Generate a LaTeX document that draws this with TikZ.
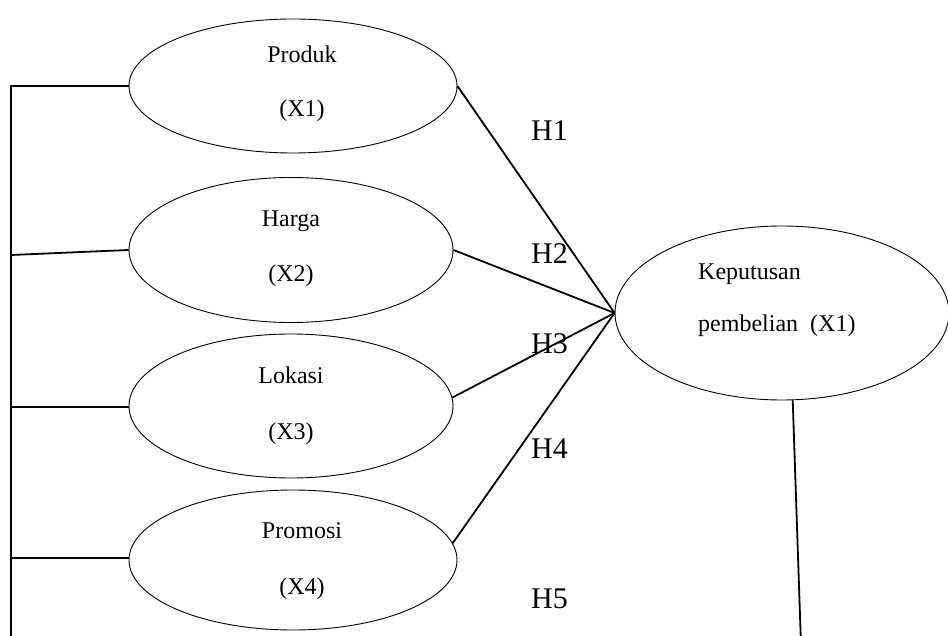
\documentclass[tikz,border=0pt]{standalone}
\usepackage{fontspec}
\setmainfont{Liberation Serif}
\usetikzlibrary{shapes.geometric}
\begin{document}
\begin{tikzpicture}[x=1pt,y=-1pt,
  ell/.style={draw,ellipse,line width=0.9pt,inner sep=0pt},
  conn/.style={line width=1.8pt},
  etext/.style={inner sep=0pt,anchor=base,font=\fontsize{24}{28}\selectfont},
  ktext/.style={inner sep=0pt,anchor=base west,font=\fontsize{24}{28}\selectfont},
  hlabel/.style={inner sep=0pt,anchor=base west,font=\fontsize{30}{34}\selectfont}]
\useasboundingbox (0,0) rectangle (948,636);
% ellipses
\node[ell,minimum width=328pt,minimum height=134pt] (prod) at (293,86) {};
\node[ell,minimum width=324pt,minimum height=145pt] (harg) at (291,250) {};
\node[ell,minimum width=324pt,minimum height=144pt] (loka) at (291,406) {};
\node[ell,minimum width=328pt,minimum height=140pt] (prom) at (293,560) {};
\node[ell,minimum width=334pt,minimum height=174pt] (kep) at (782,313) {};
% texts
\node[etext] (t1a) at (302,63) {Produk};
\node[etext] (t1b) at (302,117) {(X1)};
\node[etext] (t2a) at (291,227) {Harga};
\node[etext] (t2b) at (291,282) {(X2)};
\node[etext] (t3a) at (291,384) {Lokasi};
\node[etext] (t3b) at (291,439) {(X3)};
\node[etext] (t4a) at (302,538) {Promosi};
\node[etext] (t4b) at (302,594) {(X4)};
\node[ktext] (tka) at (698,280) {Keputusan};
\node[ktext] (tkb) at (698,332) {pembelian\ \ (X1)};
% hypothesis labels
\node[hlabel] (h1) at (531,141) {H1};
\node[hlabel] (h2) at (531,264) {H2};
\node[hlabel] (h3) at (531,354) {H3};
\node[hlabel] (h4) at (531,458) {H4};
\node[hlabel] (h5) at (531,608) {H5};
% left bracket
\coordinate (ltop) at (11,86);
\coordinate (l2) at (11,255);
\coordinate (l3) at (11,407);
\coordinate (l4) at (11,558);
\coordinate (lbot) at (11,645);
\draw[conn] (lbot) -- (ltop) -- (prod.west);
\draw[conn] (l2) -- (harg.west);
\draw[conn] (l3) -- (l3 -| loka.west);
\draw[conn] (l4) -- (l4 -| prom.west);
% converging lines
\draw[conn] (prod.east) -- (kep.west);
\draw[conn] (harg.east) -- (kep.west);
\draw[conn] (loka.3) -- (kep.west);
\draw[conn] (prom.6) -- (kep.west);
% bottom line from Keputusan
\coordinate (kbot) at (801,645);
\draw[conn] (kep.-83) -- (kbot);
\end{tikzpicture}
\end{document}
